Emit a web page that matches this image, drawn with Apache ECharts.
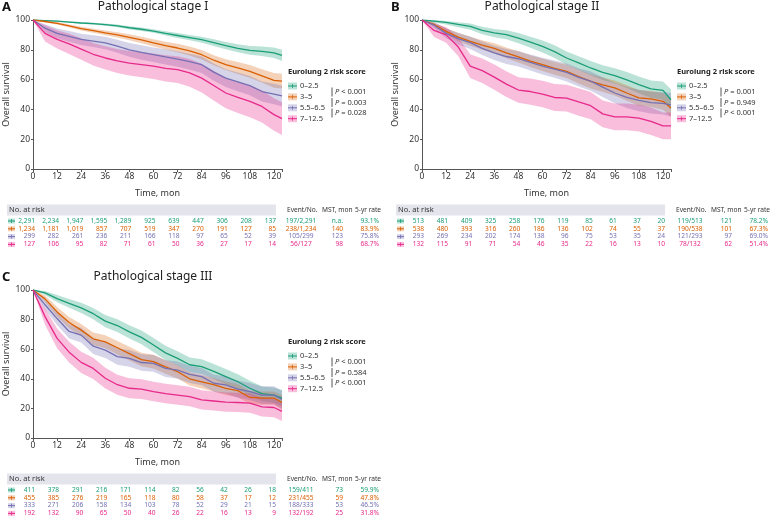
<!DOCTYPE html>
<html><head><meta charset="utf-8">
<script src="https://cdn.jsdelivr.net/npm/echarts@6/dist/echarts.min.js"></script>
<style>html,body{margin:0;padding:0;background:#fff}#c{width:772px;height:520px}</style>
</head><body><div id="c"></div>
<script>
// ---------- DATA ----------
const times = [0,6,12,18,24,30,36,42,48,54,60,66,72,78,84,90,96,102,108,114,120,124];
const groupNames = ['0–2.5','3–5','5.5–6.5','7–12.5'];
const riskTimes = [0,12,24,36,48,60,72,84,96,108,120];
const xTicks = [0,12,24,36,48,60,72,84,96,108,120];
const yTicks = [0,20,40,60,80,100];
const statHeaders = ['Event/No.','MST, mon','5-yr rate'];

// Panel A – Pathological stage I
const aS0 = [100,99.6,99.2,98.6,98.0,97.5,96.9,96,94.8,93.8,92.6,91,89.6,88.2,86.8,84.8,82.8,81,79.6,79,78,76.3];
const aL0 = [100,99.3,98.8,98.1,97.4,96.8,96.1,95.1,93.8,92.7,91.4,89.6,88,86.4,84.8,82.5,80.3,78.3,76.7,75.8,74.5,72.5];
const aH0 = [100,99.9,99.6,99.1,98.6,98.2,97.7,96.9,95.8,94.9,93.8,92.4,91.2,90,88.8,87.1,85.3,83.7,82.5,82.2,81.5,80];
const aS1 = [100,99,97.8,96,94.2,92.8,91.3,90,88.4,86.6,84.6,82.8,81.2,79.2,76.7,73,70,67.8,65.5,62.5,59.5,59];
const aL1 = [100,98.4,97,95,93,91.4,89.7,88.2,86.4,84.4,82.2,80.2,78.4,76.2,73.5,69.6,66.4,63.8,61.2,58,54.5,54];
const aH1 = [100,99.6,98.6,97,95.4,94.2,92.9,91.8,90.4,88.8,87,85.4,84,82.2,79.9,76.4,73.6,71.8,69.8,67,64.5,64];
const aS2 = [100,94.5,91,89,87,85.8,84.6,82.4,80,78.2,76.7,75.2,73.8,72,70,65,61,58.5,56,52,50.3,49];
const aL2 = [100,91.8,87.7,85.4,83.2,81.8,80.4,78,75.4,73.4,71.8,70.1,68.6,66.6,64.4,59.2,55,52.2,49.5,45.3,43.4,42];
const aH2 = [100,97.2,94.3,92.6,90.8,89.8,88.8,86.8,84.6,83,81.6,80.3,79,77.4,75.6,70.8,67,64.8,62.5,58.7,57.2,56];
const aS3 = [100,91,87,84,80.5,77,74.5,72.5,71,70,69,67.5,66.7,64.5,61,56,51,48,45.4,42,36.5,33.8];
const aL3 = [100,85.5,80.8,77.2,73.3,69.5,66.7,64.5,62.8,61.6,60.4,58.7,57.7,55.2,51.4,46,40.8,37.6,34.8,31.2,25.6,22.8];
const aH3 = [100,96.5,93.2,90.8,87.7,84.5,82.3,80.5,79.2,78.4,77.6,76.3,75.7,73.8,70.6,66,61.2,58.4,56,52.8,47.4,44.8];
const aRisk0 = ['2,291','2,234','1,947','1,595','1,289','925','639','447','306','208','137'];
const aRisk1 = ['1,234','1,181','1,019','857','707','519','347','270','191','127','85'];
const aRisk2 = ['299','282','261','236','211','166','118','97','65','52','39'];
const aRisk3 = ['127','106','95','82','71','61','50','36','27','17','14'];
const aEvents = ['197/2,291','238/1,234','105/299','56/127'];
const aMST = ['n.a.','140','123','98'];
const aRate = ['93.1%','83.9%','75.8%','68.7%'];
const aP = ['< 0.001','= 0.003','= 0.028'];

// Panel B – Pathological stage II
const bS0 = [100,99.2,98.4,97,95.7,93,91.3,90.2,87.9,85.2,82.3,78.8,74.5,71.2,67.8,64.8,62.6,59.8,56.6,53.8,52.8,46.5];
const bL0 = [100,98.3,97,95.2,93.5,90.4,88.4,87,84.4,81.4,78.2,74.5,70,66.5,62.9,59.7,57.3,54.3,50.9,47.9,46.5,39.5];
const bH0 = [100,100,99.4,98.5,97.6,95.4,94,93.2,91.2,88.8,86.2,83,78.8,75.7,72.5,69.7,67.7,65.1,62.1,59.4,58.8,53.5];
const bS1 = [100,97,92.4,88.5,85.7,83.2,81,78,75.2,72.4,70,67.5,65.5,62,58.8,56.5,54.4,51,47.7,47,45.4,41];
const bL1 = [100,95.6,90.2,85.8,82.7,80,77.6,74.4,71.4,68.4,65.8,63.2,61,57.4,54,51.6,49.4,45.8,42.4,41.6,39.8,35];
const bH1 = [100,98.4,94.6,91.2,88.7,86.4,84.4,81.6,79,76.4,74.2,71.8,70,66.6,63.6,61.4,59.4,56.2,53,52.4,51,47];
const bS2 = [100,96.5,91,87.5,84.8,81,78,75.5,74,71.5,69,67,64.8,61.5,59,55,51,48,46,44.5,44,43];
const bL2 = [100,94.4,87.7,83.6,80.6,76.5,73.2,70.5,68.8,66.1,63.4,61.2,58.8,55.3,52.6,48.4,44.2,41,38.8,37.2,36.5,35];
const bH2 = [100,98.6,94.3,91.4,89,85.5,82.8,80.5,79.2,76.9,74.6,72.8,70.8,67.7,65.4,61.6,57.8,55,53.2,51.8,51.5,51];
const bS3 = [100,93,90,82,69,66,61.7,57,53,52,50.3,48,47.6,45,42.5,37,35,35,34.2,32,29,29];
const bL3 = [100,88.6,84.8,75.8,61,57.8,53.2,48.4,44.4,43.2,41.4,39,38.6,35.8,33.4,28,26,26,25.2,22.8,20,20];
const bH3 = [100,97.4,95.2,88.2,77,74.2,70.2,65.6,61.6,60.8,59.2,57,56.6,54.2,51.6,46,44,44,43.2,41.2,38,38];
const bRisk0 = ['513','481','409','325','258','176','119','85','61','37','20'];
const bRisk1 = ['538','480','393','316','260','186','136','102','74','55','37'];
const bRisk2 = ['293','269','234','202','174','138','96','75','53','35','24'];
const bRisk3 = ['132','115','91','71','54','46','35','22','16','13','10'];
const bEvents = ['119/513','190/538','121/293','78/132'];
const bMST = ['121','101','97','62'];
const bRate = ['78.2%','67.3%','69.0%','51.4%'];
const bP = ['= 0.001','= 0.949','< 0.001'];

// Panel C – Pathological stage III
const cS0 = [100,98,94.2,91,87.9,84,79,76,71.7,68,62.8,57.5,53.8,49.5,48.2,45,41.5,38,33.6,30,29,27];
const cL0 = [100,96.6,91.8,88,84.4,80.2,74.9,71.7,67.3,63.4,58.1,52.7,49,44.6,43.2,40,36.4,32.9,28.6,25,23.8,21.5];
const cH0 = [100,99.4,96.6,94,91.4,87.8,83.1,80.3,76.1,72.6,67.5,62.3,58.6,54.4,53.2,50,46.6,43.1,38.6,35,34.2,32.5];
const cS1 = [100,94,85.2,78,72.9,67,65,61,57,53,51.6,48,44.8,40,38,36,33.6,32,27.4,27,27,24];
const cL1 = [100,91.8,81.9,74.2,68.8,62.8,60.6,56.5,52.4,48.4,47,43.4,40.2,35.5,33.5,31.5,29.1,27.5,23,22.5,22.5,19];
const cH1 = [100,96.2,88.5,81.8,77,71.2,69.4,65.5,61.6,57.6,56.2,52.6,49.4,44.5,42.5,40.5,38.1,36.5,31.8,31.5,31.5,29];
const cS2 = [100,90,80.7,72,69.5,62,59.4,55,53.8,51,50.4,47,45.9,43,41.5,37,35.9,33,31.4,29,29,26];
const cL2 = [100,86.8,76.4,67.2,64.5,56.8,54,49.5,48.2,45.4,44.7,41.3,40.1,37.2,35.7,31.2,30.1,27.2,25.6,23.2,23,20];
const cH2 = [100,93.2,85,76.8,74.5,67.2,64.8,60.5,59.4,56.6,56.1,52.7,51.7,48.8,47.3,42.8,41.7,38.8,37.2,34.8,35,32];
const cS3 = [100,82,67.3,58,51.1,47,40.4,36,33.6,33,31.4,30,29,28,25.8,25,24.2,24,23.6,21,20.6,18];
const cL3 = [100,76.5,60.6,51,44,39.8,33.4,29.2,26.9,26.3,24.8,23.4,22.4,21.4,19.3,18.5,17.7,17.5,17,14.6,14,11.5];
const cH3 = [100,87.5,74,65,58.2,54.2,47.4,42.8,40.3,39.7,38,36.6,35.6,34.6,32.3,31.5,30.7,30.5,30.2,27.4,27.2,24.5];
const cRisk0 = ['411','378','291','216','171','114','82','56','42','26','18'];
const cRisk1 = ['455','385','276','219','165','118','80','58','37','17','12'];
const cRisk2 = ['333','271','206','158','134','103','78','52','29','21','15'];
const cRisk3 = ['192','132','90','65','50','40','26','22','16','13','9'];
const cEvents = ['159/411','231/455','188/333','132/192'];
const cMST = ['73','59','53','25'];
const cRate = ['59.9%','47.8%','46.5%','31.8%'];
const cP = ['< 0.001','= 0.584','< 0.001'];

// ---------- STYLE ----------
const colors = ['#1b9e77','#d95f02','#7570b3','#e7298a'];
const bandColors = ['rgba(27,158,119,0.30)','rgba(217,95,2,0.28)','rgba(117,112,179,0.30)','rgba(231,41,138,0.30)'];
const FF = '"Noto Sans", "DejaVu Sans", sans-serif';

const panels = [
  {letter:'A', title:'Pathological stage I', grid:{left:33,top:20,width:249,height:149},
   surv:[aS0,aS1,aS2,aS3], lo:[aL0,aL1,aL2,aL3], hi:[aH0,aH1,aH2,aH3],
   risk:[aRisk0,aRisk1,aRisk2,aRisk3], events:aEvents, mst:aMST, rate:aRate, p:aP},
  {letter:'B', title:'Pathological stage II', grid:{left:422,top:20,width:249,height:149},
   surv:[bS0,bS1,bS2,bS3], lo:[bL0,bL1,bL2,bL3], hi:[bH0,bH1,bH2,bH3],
   risk:[bRisk0,bRisk1,bRisk2,bRisk3], events:bEvents, mst:bMST, rate:bRate, p:bP},
  {letter:'C', title:'Pathological stage III', grid:{left:33,top:290,width:249,height:148},
   surv:[cS0,cS1,cS2,cS3], lo:[cL0,cL1,cL2,cL3], hi:[cH0,cH1,cH2,cH3],
   risk:[cRisk0,cRisk1,cRisk2,cRisk3], events:cEvents, mst:cMST, rate:cRate, p:cP}
];

const chart = echarts.init(document.getElementById('c'), null, {renderer:'canvas'});

const grid = [], xAxis = [], yAxis = [], series = [];
panels.forEach((p, i) => {
  grid.push(Object.assign({containLabel:false}, p.grid));
  xAxis.push({type:'value', gridIndex:i, min:0, max:124, interval:12,
    axisLine:{lineStyle:{color:'#555', width:1}}, axisTick:{length:3, lineStyle:{color:'#555'}},
    splitLine:{show:false},
    axisLabel:{fontSize:8.5, color:'#333', fontFamily:FF, margin:3,
      formatter: v => xTicks.indexOf(v) >= 0 ? String(v) : ''},
    name:'Time, mon', nameLocation:'middle', nameGap:20,
    nameTextStyle:{fontSize:9, color:'#333', fontFamily:FF}});
  yAxis.push({type:'value', gridIndex:i, min:0, max:100, interval:20,
    axisLine:{show:true, lineStyle:{color:'#555', width:1}}, axisTick:{show:true, length:2, lineStyle:{color:'#555'}},
    splitLine:{show:false},
    axisLabel:{fontSize:8.5, color:'#333', fontFamily:FF, margin:3,
      formatter: v => yTicks.indexOf(v) >= 0 ? String(v) : ''},
    name:'Overall survival', nameLocation:'middle', nameGap:22,
    nameTextStyle:{fontSize:9, color:'#333', fontFamily:FF}});
});

// confidence bands (drawn first)
panels.forEach((p, i) => {
  p.surv.forEach((s, g) => {
    const lo = p.lo[g], hi = p.hi[g];
    series.push({type:'custom', xAxisIndex:i, yAxisIndex:i, silent:true, clip:true,
      data: times.map((t,k) => [t, s[k]]),
      renderItem: (params, api) => {
        if (params.dataIndex !== 0) return null;
        const up = [], dn = [];
        for (let k = 0; k < times.length; k++) {
          up.push(api.coord([times[k], hi[k]]));
          dn.push(api.coord([times[k], lo[k]]));
        }
        return {type:'polygon', shape:{points: up.concat(dn.reverse())}, style:{fill: bandColors[g]}};
      }});
  });
});
// survival curves
panels.forEach((p, i) => {
  p.surv.forEach((s, g) => {
    series.push({type:'line', name:groupNames[g], xAxisIndex:i, yAxisIndex:i, silent:true,
      data: times.map((t,k) => [t, s[k]]), symbol:'none',
      lineStyle:{color:colors[g], width:1.3}, itemStyle:{color:colors[g]}});
  });
});

chart.setOption({animation:false, backgroundColor:'#fff', grid, xAxis, yAxis, series});

// ---------- TEXT / TABLES ----------
function T(x, y, text, o) {
  o = o || {};
  return {type:'text', x, y, silent:true, z:10, style:{
    text, fill:o.color || '#333', fontSize:o.size || 7.5, fontFamily:FF,
    fontWeight:o.weight || 'normal',
    textAlign:o.align || 'left', align:o.align || 'left',
    textVerticalAlign:'middle', verticalAlign:'middle',
    rich:o.rich}};
}
function marker(x, y, g, w, h) {
  return [
    {type:'rect', silent:true, z:10, shape:{x, y:y-h/2, width:w, height:h}, style:{fill:bandColors[g]}},
    {type:'line', silent:true, z:11, shape:{x1:x, y1:y, x2:x+w, y2:y}, style:{stroke:colors[g], lineWidth:1}},
    {type:'line', silent:true, z:11, shape:{x1:x+w/2, y1:y-2, x2:x+w/2, y2:y+2}, style:{stroke:colors[g], lineWidth:0.8}}
  ];
}
const els = [];
panels.forEach((p, i) => {
  const L = p.grid.left, Tp = p.grid.top, B = p.grid.top + p.grid.height;
  els.push(T(L - 31, Tp - 13, p.letter, {size:13, weight:'bold', color:'#111'}));
  els.push(T(L + 120, Tp - 13, p.title, {size:12, color:'#222', align:'center'}));
  // legend
  els.push(T(L + 255, Tp + 52, 'Eurolung 2 risk score', {size:7.5, weight:'bold', color:'#222'}));
  groupNames.forEach((n, g) => {
    const y = Tp + 66 + g * 10.9;
    marker(L + 255, y, g, 9, 7).forEach(e => els.push(e));
    els.push(T(L + 267, y, n, {size:7.5, color:'#333'}));
  });
  p.p.forEach((pv, k) => {
    const y = Tp + 72 + k * 10.5;
    els.push({type:'line', silent:true, z:10, shape:{x1:L+299, y1:y-4.5, x2:L+299, y2:y+4.5}, style:{stroke:'#555', lineWidth:1}});
    els.push(T(L + 302, y, '{i|P} ' + pv, {size:7.5, color:'#333', rich:{i:{fontStyle:'italic', fontSize:7.5, fontFamily:FF, fill:'#333'}}}));
  });
  // risk table
  const x120 = chart.convertToPixel({gridIndex:i}, [120, 0])[0];
  const hy = B + 41;
  els.push({type:'rect', silent:true, z:9, shape:{x:L-26, y:hy-5.5, width:x120 + 2 - (L-26), height:11}, style:{fill:'#e4e4ed'}});
  els.push(T(L - 24, hy, 'No. at risk', {size:7.5, color:'#333'}));
  els.push(T(L + 254, hy, statHeaders[0], {size:6.6, color:'#333'}));
  els.push(T(L + 289, hy, statHeaders[1], {size:6.6, color:'#333'}));
  els.push(T(L + 322, hy, statHeaders[2], {size:6.6, color:'#333'}));
  p.risk.forEach((row, g) => {
    const y = B + 52 + g * 7.8;
    marker(L - 25, y, g, 7, 5).forEach(e => els.push(e));
    row.forEach((v, k) => {
      const x = chart.convertToPixel({gridIndex:i}, [riskTimes[k], 0])[0];
      els.push(T(x + 2, y, v, {size:6.6, color:colors[g], align:'right'}));
    });
    els.push(T(L + 268, y, p.events[g], {size:6.6, color:colors[g], align:'center'}));
    els.push(T(L + 310, y, p.mst[g], {size:6.6, color:colors[g], align:'right'}));
    els.push(T(L + 346, y, p.rate[g], {size:6.6, color:colors[g], align:'right'}));
  });
});
chart.setOption({graphic:{elements:els}});
</script>
</body></html>
